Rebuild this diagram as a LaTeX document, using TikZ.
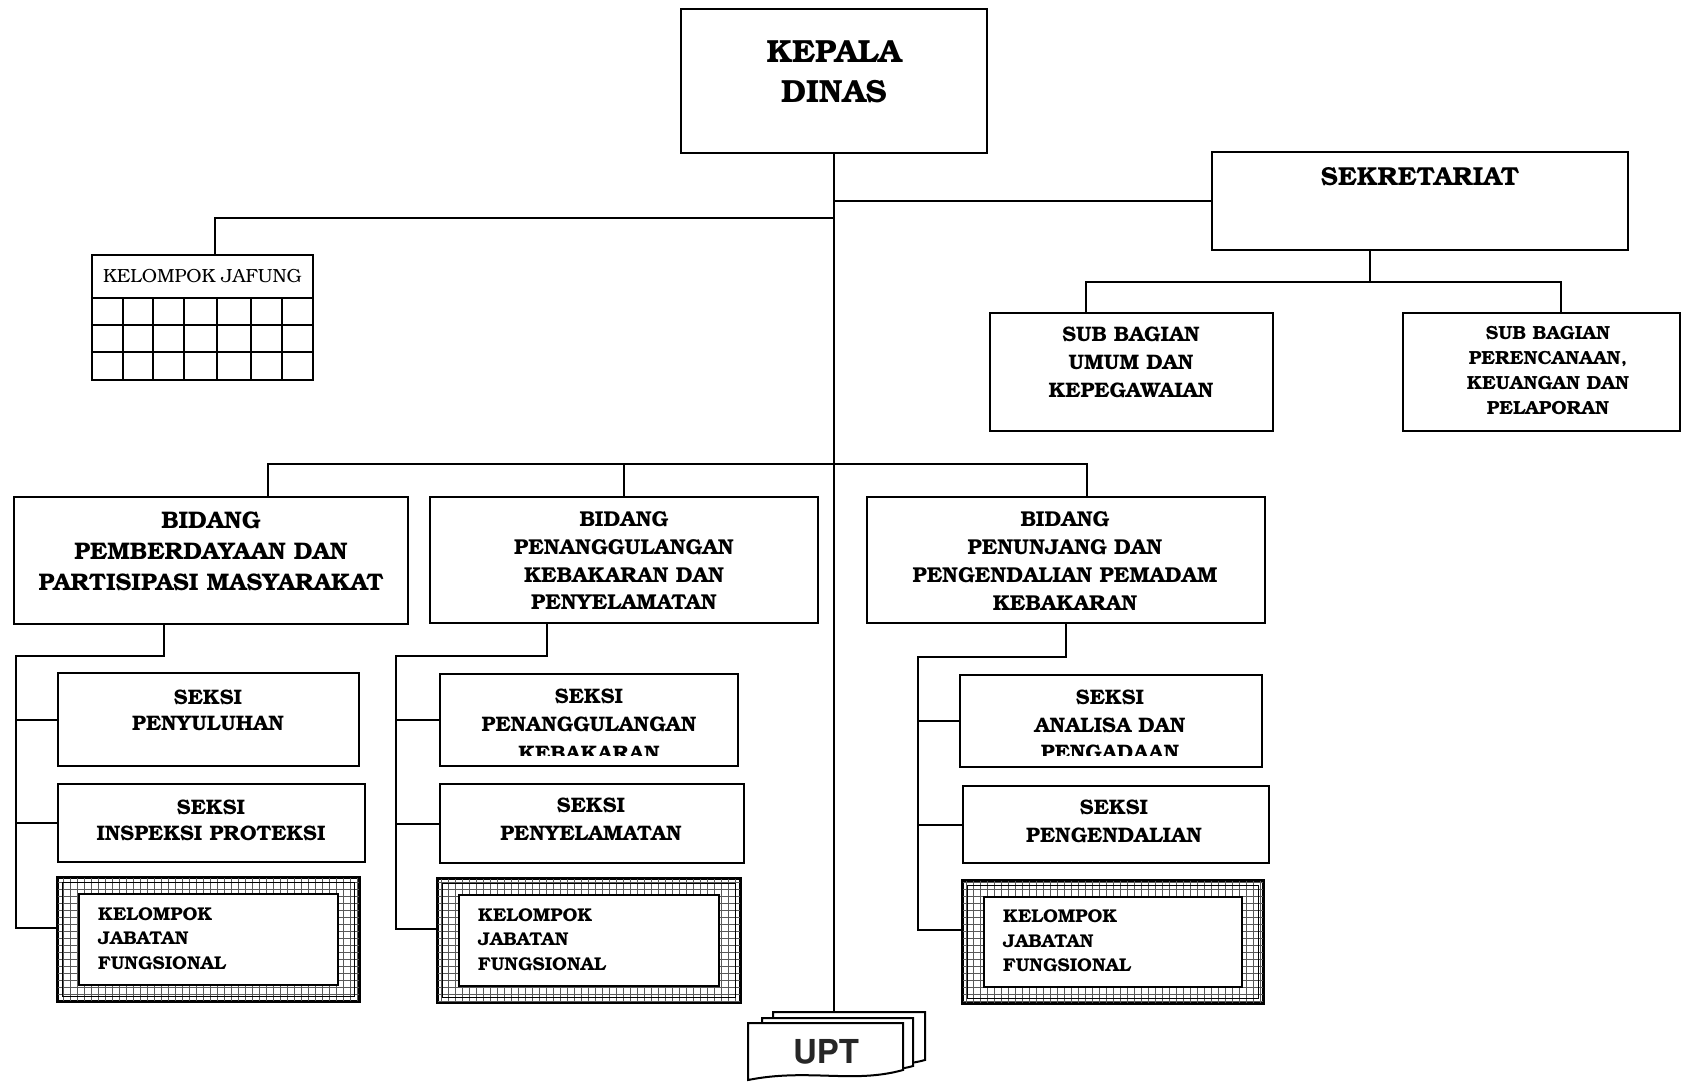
\documentclass[tikz,border=0pt]{standalone}
\usepackage[T1]{fontenc}
\usepackage{bookman}
\usetikzlibrary{calc}
\newcommand\fs[2]{\fontsize{#1}{#2}\selectfont\bfseries}
\newcommand\mybox[5]{%
  \node[box,minimum width={#4-#2},minimum height={#5-#3}] (#1) at ({(#2+#4)/2},{(#3+#5)/2}) {};}
\newcommand\kjfbox[5]{%
  \node[box,minimum width={#4-#2},minimum height={#5-#3}] (#1) at ({(#2+#4)/2},{(#3+#5)/2}) {};
  \begin{scope}
    \clip (#2,#3) rectangle (#4,#5);
    \draw[gridl] (#2,#3) grid[step=7pt] (#4,#5);
  \end{scope}
  \draw[line width=1pt] ({#2+4.5},{#3+4.5}) rectangle ({#4-4.5},{#5-4.5});
  \draw[line width=2.4pt] (#1.north west) rectangle (#1.south east);
  \node[box,line width=2.6pt,minimum width={#4-#2-42},minimum height={#5-#3-32}] (#1i) at ({(#2+#4)/2},{(#3+#5)/2}) {};
  \node[lbl,align=left,anchor=west,font=\fs{18.5}{24.5}] (#1t) at ({#2+40},{(#3+#5)/2-1}) {KELOMPOK\\JABATAN\\FUNGSIONAL};}
\newcommand\docshape[5]{%
  \filldraw[fill=white,line width=2pt] (#1,#2) -- (#3,#2) -- (#3,#5) .. controls ({#3-50},{#5+14}) and ({#1+60},{#4-12}) .. (#1,#4) -- cycle;}
\tikzset{
  box/.style={draw,line width=2.2pt,fill=white,inner sep=0pt},
  lbl/.style={align=center,inner sep=0pt},
  conn/.style={line width=2pt},
  gridl/.style={line width=0.7pt,black!65},
}
\begin{document}
\begin{tikzpicture}[x=1pt,y=-1pt]
\useasboundingbox[fill=white] (0,0) rectangle (1684,1082);

% top level
\mybox{kepala}{681}{9}{987}{153}
\node[lbl,font=\fs{32}{40}] (kepalat) at (834,72.5) {KEPALA\\DINAS};
\mybox{sek}{1212}{152}{1628}{250}
\node[lbl,font=\fs{26}{32}] (sekt) at (1420,177) {SEKRETARIAT};
\mybox{subum}{990}{313}{1273}{431}
\node[lbl,font=\fs{21}{28}] (subumt) at (1131,362) {SUB BAGIAN\\UMUM DAN\\KEPEGAWAIAN};
\mybox{subren}{1403}{313}{1680}{431}
\node[lbl,font=\fs{19}{25}] (subrent) at (1548,370.5) {SUB BAGIAN\\PERENCANAAN,\\KEUANGAN DAN\\PELAPORAN};

% kelompok jafung
\mybox{kjaf}{92}{255}{313}{380}
\draw[line width=2pt] (kjaf.west |- 0,298) -- (kjaf.east |- 0,298);
\foreach \yy in {325,352} \draw[line width=2pt] (kjaf.west |- 0,\yy) -- (kjaf.east |- 0,\yy);
\foreach \xx in {123,153,184,217,251,282} \draw[line width=2pt] (\xx,298) -- (\xx,380);
\node[lbl,font={\fontsize{19}{23}\selectfont\mdseries}] (kjaft) at (202.5,276) {KELOMPOK JAFUNG};

% bidang
\mybox{b1}{14}{497}{408}{624}
\node[lbl,font=\fs{24}{31}] (b1t) at (211,551) {BIDANG\\PEMBERDAYAAN DAN\\PARTISIPASI MASYARAKAT};
\mybox{b2}{430}{497}{818}{623}
\node[lbl,font=\fs{21.5}{27.7}] (b2t) at (624,560.5) {BIDANG\\PENANGGULANGAN\\KEBAKARAN DAN\\PENYELAMATAN};
\mybox{b3}{867}{497}{1265}{623}
\node[lbl,font=\fs{21.5}{28}] (b3t) at (1065,561) {BIDANG\\PENUNJANG DAN\\PENGENDALIAN PEMADAM\\KEBAKARAN};

% seksi column 1
\mybox{s11}{58}{673}{359}{766}
\node[lbl,font=\fs{21}{26}] (s11t) at (208,710) {SEKSI\\PENYULUHAN};
\mybox{s12}{58}{784}{365}{862}
\node[lbl,font=\fs{21}{26}] (s12t) at (211,820) {SEKSI\\INSPEKSI PROTEKSI};
\kjfbox{kjf1}{58}{878}{359}{1001}

% seksi column 2
\mybox{s21}{440}{674}{738}{766}
\begin{scope}
  \clip (440,674) rectangle (738,755);
  \node[lbl,font=\fs{21}{28.5}] (s21t) at (589,724) {SEKSI\\PENANGGULANGAN\\KEBAKARAN};
\end{scope}
\mybox{s22}{440}{784}{744}{863}
\node[lbl,font=\fs{21}{28}] (s22t) at (591,819) {SEKSI\\PENYELAMATAN};
\kjfbox{kjf2}{438}{879}{740}{1002}

% seksi column 3
\mybox{s31}{960}{675}{1262}{767}
\begin{scope}
  \clip (960,675) rectangle (1262,755);
  \node[lbl,font=\fs{21}{27.5}] (s31t) at (1110,725) {SEKSI\\ANALISA DAN\\PENGADAAN};
\end{scope}
\mybox{s32}{963}{786}{1269}{863}
\node[lbl,font=\fs{21}{28}] (s32t) at (1114,821) {SEKSI\\PENGENDALIAN};
\kjfbox{kjf3}{963}{881}{1263}{1003}

% UPT
\coordinate (uptb) at (0,1012);
\docshape{773}{1012}{925}{1058}{1060}
\docshape{762}{1018}{913}{1068}{1066}
\docshape{748}{1023}{903}{1080}{1070}
\node[inner sep=0pt,text=black!85,font={\fontfamily{phv}\fontsize{33}{36}\selectfont\bfseries}] (upt) at (826,1052) {UPT};

% connectors
\coordinate (jy) at (0,218);
\coordinate (sby) at (0,282);
\coordinate (bby) at (0,464);
\draw[conn] (kepala.south) -- (kepala.south |- uptb);
\draw[conn] (kepala.south |- sek.west) -- (sek.west);
\draw[conn] (kepala.south |- jy) -| ([xshift=12.5pt]kjaf.north);
\draw[conn] ([xshift=-50pt]sek.south) -- ([xshift=-50pt]sek.south |- sby);
\draw[conn] ([xshift=-46pt]subum.north) |- ([xshift=19pt]subren.north |- sby) -- ([xshift=19pt]subren.north);
\draw[conn] ([xshift=57pt]b1.north) |- ([xshift=21pt]b3.north |- bby) -- ([xshift=21pt]b3.north);
\draw[conn] (b2.north) -- (b2.north |- bby);

\coordinate (c1) at (16,656);
\draw[conn] ([xshift=-47pt]b1.south) |- (c1) |- ([yshift=11.5pt]kjf1.west);
\draw[conn] (c1 |- s11.west) -- (s11.west);
\draw[conn] (c1 |- s12.west) -- (s12.west);

\coordinate (c2) at (396,656);
\draw[conn] ([xshift=-77pt]b2.south) |- (c2) |- ([yshift=11.5pt]kjf2.west);
\draw[conn] (c2 |- s21.west) -- (s21.west);
\draw[conn] (c2 |- s22.west) -- (s22.west);

\coordinate (c3) at (918,657);
\draw[conn] (b3.south) |- (c3) |- ([yshift=12pt]kjf3.west);
\draw[conn] (c3 |- s31.west) -- (s31.west);
\draw[conn] (c3 |- s32.west) -- (s32.west);
\end{tikzpicture}
\end{document}
